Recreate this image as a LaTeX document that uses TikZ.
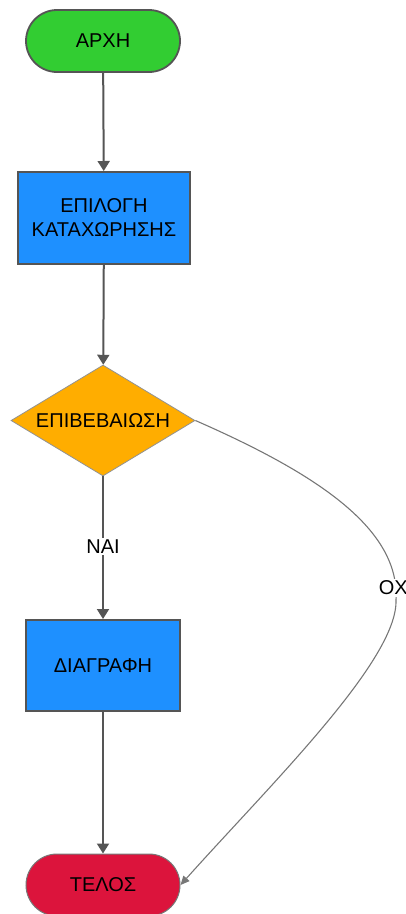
\documentclass[tikz,border=0pt]{standalone}
\usepackage{fontspec}
\setmainfont{Liberation Sans}
\usetikzlibrary{shapes.geometric,arrows.meta}
\definecolor{startgreen}{HTML}{32CD32}
\definecolor{procblue}{HTML}{1E90FF}
\definecolor{decorange}{HTML}{FFAD00}
\definecolor{endred}{HTML}{DC143C}
\definecolor{edgegray}{HTML}{555555}
\definecolor{curvegray}{HTML}{777777}
\tikzset{
  lbl/.style={font=\fontsize{20}{24}\selectfont, text=black},
  terminal/.style={lbl, draw=edgegray, line width=1.8pt, rounded corners=31pt,
     minimum width=154pt, minimum height=62pt, inner sep=0pt},
  procbox/.style={lbl, draw=edgegray, line width=2pt, fill=procblue,
     align=center, inner sep=0pt},
  decision/.style={lbl, diamond, draw=curvegray!80, line width=0.8pt, fill=decorange,
     minimum width=184pt, minimum height=111pt, inner sep=0pt, aspect=1.66},
  flow/.style={draw=edgegray, line width=2pt, -{Triangle[length=10pt,width=12pt]}},
  noflow/.style={draw=curvegray, line width=1.1pt, -{Triangle[length=9pt,width=8pt]}},
  edgelbl/.style={lbl, fill=white, inner sep=1.5pt}
}
\begin{document}
\begin{tikzpicture}[x=1pt,y=-1pt]
\useasboundingbox (0,0) rectangle (405,914);
\node[terminal, fill=startgreen] (start) at (103,41) {ΑΡΧΗ};
\node[procbox, minimum width=172pt, minimum height=92pt] (select) at (104,218) {ΕΠΙΛΟΓΗ\\ΚΑΤΑΧΩΡΗΣΗΣ};
\node[decision] (confirm) at (103,420.5) {ΕΠΙΒΕΒΑΙΩΣΗ};
\node[procbox, minimum width=154pt, minimum height=91pt] (delete) at (103,665.5) {ΔΙΑΓΡΑΦΗ};
\node[terminal, fill=endred, draw=edgegray!80, line width=1pt] (end) at (103,885) {ΤΕΛΟΣ};
\coordinate (bend) at (396,600);
\draw[flow] (start) -- (select);
\draw[flow] (select) -- (confirm);
\draw[flow] (confirm) -- node[edgelbl, pos=0.49] {ΝΑΙ} (delete);
\draw[flow] (delete) -- (end);
\draw[noflow] (confirm.east) .. controls (320,475) and (400,530) .. (bend)
   .. controls (398,660) and (270,785) .. (end.east);
\node[edgelbl] (nolabel) at (396,588) {ΟΧΙ};
\end{tikzpicture}
\end{document}
